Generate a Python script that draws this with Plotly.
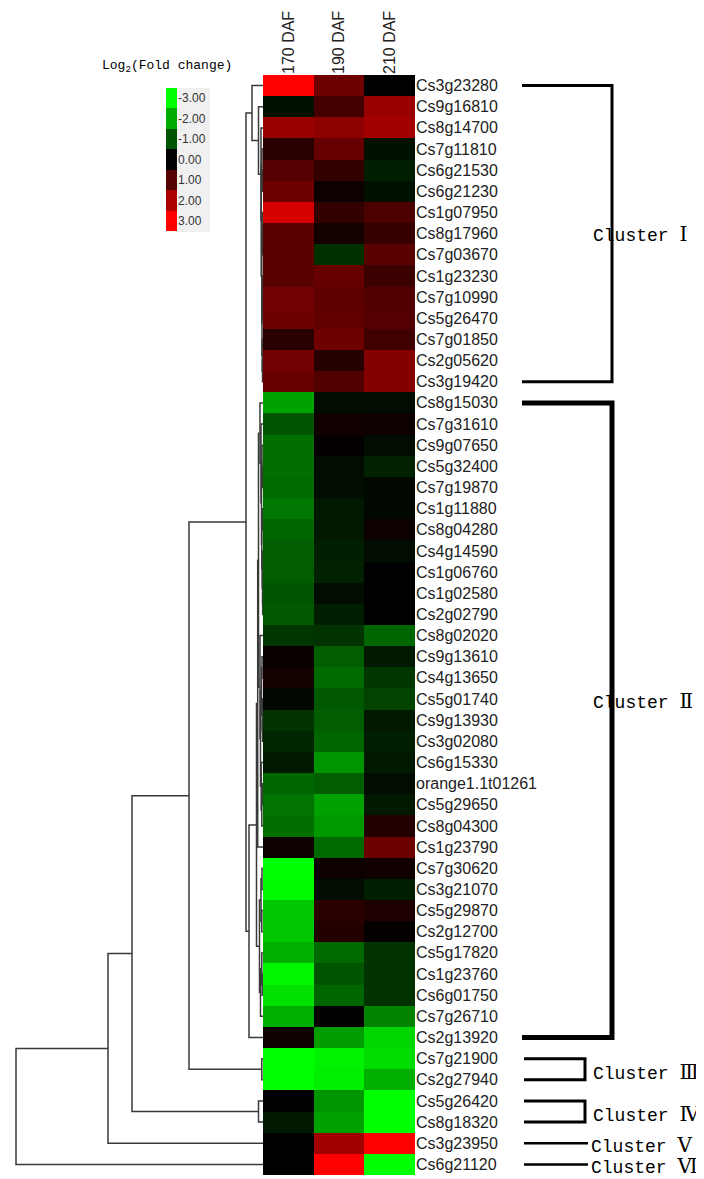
import plotly.graph_objects as go

# ---------------- data ----------------
genes = ["Cs3g23280", "Cs9g16810", "Cs8g14700", "Cs7g11810", "Cs6g21530", "Cs6g21230",
         "Cs1g07950", "Cs8g17960", "Cs7g03670", "Cs1g23230", "Cs7g10990", "Cs5g26470",
         "Cs7g01850", "Cs2g05620", "Cs3g19420",
         "Cs8g15030", "Cs7g31610", "Cs9g07650", "Cs5g32400", "Cs7g19870", "Cs1g11880",
         "Cs8g04280", "Cs4g14590", "Cs1g06760", "Cs1g02580", "Cs2g02790", "Cs8g02020",
         "Cs9g13610", "Cs4g13650", "Cs5g01740", "Cs9g13930", "Cs3g02080", "Cs6g15330",
         "orange1.1t01261", "Cs5g29650", "Cs8g04300", "Cs1g23790", "Cs7g30620", "Cs3g21070",
         "Cs5g29870", "Cs2g12700", "Cs5g17820", "Cs1g23760", "Cs6g01750", "Cs7g26710",
         "Cs2g13920",
         "Cs7g21900", "Cs2g27940", "Cs5g26420", "Cs8g18320", "Cs3g23950", "Cs6g21120"]

stages = ["170 DAF", "190 DAF", "210 DAF"]

daf170 = [3.0, -0.2, 1.8, 0.5, 1.0, 1.3, 2.5, 1.05, 1.05, 1.05, 1.35, 1.3, 0.5, 1.35, 1.2,
          -1.9, -1.0, -1.3, -1.3, -1.25, -1.4, -1.2, -1.1, -1.1, -1.0, -1.05, -0.65,
          0.1, 0.25, -0.1, -0.6, -0.45, -0.3, -1.2, -1.35, -1.3, 0.15, -3.0, -2.95,
          -2.35, -2.35, -2.05, -2.9, -2.65, -2.05, 0.15,
          -3.0, -3.0, 0.0, -0.3, 0.0, 0.0]
daf190 = [1.3, 0.8, 1.65, 1.2, 0.6, 0.15, 0.6, 0.25, -0.55, 1.2, 1.1, 1.15, 1.3, 0.45, 0.95,
          -0.15, 0.2, 0.05, -0.15, -0.15, -0.3, -0.3, -0.35, -0.4, -0.15, -0.35, -0.6,
          -1.1, -1.25, -1.05, -1.1, -1.2, -1.75, -1.1, -1.9, -1.8, -1.25, 0.15, -0.15,
          0.5, 0.4, -1.25, -1.0, -1.2, 0.0, -1.85,
          -2.85, -2.8, -1.75, -1.9, 1.9, 3.0]
daf210 = [0.0, 1.8, 1.9, -0.2, -0.35, -0.2, 0.9, 0.65, 1.05, 0.7, 0.95, 1.0, 0.75, 1.55, 1.55,
          -0.15, 0.15, -0.15, -0.4, -0.1, -0.1, 0.15, -0.15, 0.0, 0.0, 0.0, -1.2,
          -0.3, -0.65, -0.8, -0.3, -0.35, -0.3, -0.15, -0.3, 0.4, 1.25, 0.2, -0.35,
          0.35, 0.05, -0.6, -0.6, -0.6, -1.55, -2.5,
          -2.6, -2.05, -3.0, -3.0, 3.0, -3.0]

# cluster tree: [merge distance, left, right]; leaves are row indices
cluster1_tree = [1.1, 0, [0.45, 1, [0.2, 2, [0.18, [0.1, 3, [0.06, 4, 5]],
                 [0.12, [0.08, 6, [0.05, 7, 8]], [0.1, [0.06, 9, [0.04, 10, 11]],
                 [0.08, 12, [0.05, 13, 14]]]]]]]]
g1a_tree = [0.3, 15, [0.2, 16, [0.15, [0.1, 17, [0.05, 18, 19]],
            [0.12, [0.06, 20, 21], [0.08, 22, [0.05, 23, [0.03, 24, 25]]]]]]]
g1b_tree = [0.3, 26, [0.25, [0.15, [0.1, 27, 28], [0.08, 29, [0.05, 30, 31]]],
            [0.18, 32, [0.12, [0.08, 33, 34], 35]]]]
g3_tree = [0.35, [0.2, [0.1, 37, 38], [0.12, 39, 40]], [0.25, [0.12, 41, [0.08, 42, 43]], 44]]
cluster2_tree = [1.4, [0.65, [0.53, [0.45, g1a_tree, g1b_tree], 36], g3_tree], 45]
full_tree = [24.7, [15.5, [13.1, [7.4, [1.7, cluster1_tree, cluster2_tree], [0.12, 46, 47]],
             [0.45, 48, 49]], 50], 51]

cluster_names = ["Ⅰ", "Ⅱ", "Ⅲ", "Ⅳ", "Ⅴ", "Ⅵ"]
cluster_sizes = [15, 31, 2, 2, 1, 1]

legend_values = [-3, -2, -1, 0, 1, 2, 3]
legend_labels = ["-3.00", "-2.00", "-1.00", "0.00", "1.00", "2.00", "3.00"]

# ---------------- geometry helpers ----------------
# the page body has an 8px default margin, so the figure is sized to the visible area
OFF = 8
W, H = 704 - OFF, 1179 - OFF
def px(x):
    return (x - OFF) / W
def py(y):
    return 1 - (y - OFF) / H

n = len(genes)
z = [[daf170[i], daf190[i], daf210[i]] for i in range(n)]
colorscale = [[0.0, "#00ff00"], [0.5, "#000000"], [1.0, "#ff0000"]]

# dendrogram coordinates
dx, dy = [], []
def build(node):
    if isinstance(node, int):
        return float(node), 0.0
    h, left, right = node
    yl, hl = build(left)
    yr, hr = build(right)
    dx.extend([hl, h, h, hr, None])
    dy.extend([yl, yl, yr, yr, None])
    return (yl + yr) / 2.0, h
build(full_tree)

fig = go.Figure()

fig.add_trace(go.Heatmap(z=z, x=list(range(3)), y=list(range(n)), colorscale=colorscale,
                         zmin=-3, zmax=3, showscale=False, hoverinfo="skip",
                         xaxis="x", yaxis="y"))

fig.add_trace(go.Scatter(x=dx, y=dy, mode="lines", line=dict(color="#3a3a3a", width=1.5),
                         hoverinfo="skip", showlegend=False, xaxis="x2", yaxis="y2"))

fig.add_trace(go.Heatmap(z=[[v] for v in legend_values], x=[0], y=list(range(len(legend_values))),
                         colorscale=colorscale, zmin=-3, zmax=3, showscale=False,
                         hoverinfo="skip", xaxis="x3", yaxis="y3"))

ydom = [py(1175), py(75)]
sans = "Liberation Sans, Arial, sans-serif"
mono = "Liberation Mono, Courier New, monospace"
# dendrogram scale: 10 px per distance unit, distance 0 at the heatmap edge
dendro_left = (263 - OFF) / 10.0
fig.update_layout(
    width=W, height=H, margin=dict(l=0, r=0, t=0, b=0),
    paper_bgcolor="white", plot_bgcolor="white", showlegend=False,
    xaxis=dict(domain=[px(263), px(415)], anchor="y", side="top", range=[-0.5, 2.5],
               tickvals=[0, 1, 2], ticktext=stages, tickangle=-90, ticks="", ticklen=0,
               tickfont=dict(family=sans, size=16, color="#222"), automargin=False,
               showgrid=False, zeroline=False, showline=False),
    yaxis=dict(domain=ydom, anchor="x", side="right", range=[n - 0.5, -0.5],
               tickvals=list(range(n)), ticktext=genes, ticks="", ticklen=0,
               tickfont=dict(family=sans, size=16, color="#222"), automargin=False,
               showgrid=False, zeroline=False, showline=False),
    xaxis2=dict(domain=[0, px(263)], anchor="y2", range=[dendro_left, 0], visible=False),
    yaxis2=dict(domain=ydom, anchor="x2", range=[n - 0.5, -0.5], visible=False),
    xaxis3=dict(domain=[px(166), px(177)], anchor="y3", range=[-0.5, 0.5], visible=False),
    yaxis3=dict(domain=[py(231), py(88)], anchor="x3", side="right",
                range=[len(legend_values) - 0.5, -0.5],
                tickvals=list(range(len(legend_values))), ticktext=legend_labels,
                ticks="", ticklen=0, automargin=False,
                tickfont=dict(family=sans, size=12, color="#333"),
                showgrid=False, zeroline=False, showline=False),
)

shapes = [dict(type="rect", xref="paper", yref="paper", x0=px(166), x1=px(210),
               y0=py(232), y1=py(88), fillcolor="#f0f0f0", line=dict(width=0), layer="below")]

annotations = [dict(text="Log<sub>2</sub>(Fold change)", xref="paper", yref="paper",
                    x=px(100), y=py(66), xanchor="left", yanchor="middle", showarrow=False,
                    font=dict(family=mono, size=13, color="black"))]

label_shift = [0, 19, -3, -2, -2, -2]
start = 0
for k, (name, size) in enumerate(zip(cluster_names, cluster_sizes)):
    first, last = start, start + size - 1
    start += size
    if size >= 10:
        lw = 3 if size < 20 else 5
        xa, xb = px(522), px(612)
        path = f"M {xa} {first} L {xb} {first} L {xb} {last} L {xa} {last}"
        shapes.append(dict(type="path", xref="paper", yref="y", path=path,
                           line=dict(color="black", width=lw)))
    elif size == 2:
        xa, xb = px(524), px(585)
        path = f"M {xa} {first} L {xb} {first} L {xb} {last} L {xa} {last}"
        shapes.append(dict(type="path", xref="paper", yref="y", path=path,
                           line=dict(color="black", width=3)))
    else:
        shapes.append(dict(type="line", xref="paper", yref="y", x0=px(524), x1=px(588),
                           y0=first, y1=first, line=dict(color="black", width=2.5)))
    label = ("Cluster " + "<span style=\"font-family:'DejaVu Serif';font-size:20px\">"
             + name + "</span>")
    annotations.append(dict(text=label, xref="paper", yref="y", x=px(591 if size > 1 else 589),
                            y=(first + last) / 2, yshift=label_shift[k],
                            xanchor="left", yanchor="middle", showarrow=False,
                            font=dict(family=mono, size=18, color="black")))

fig.update_layout(shapes=shapes, annotations=annotations)
fig.write_html("out.html")
